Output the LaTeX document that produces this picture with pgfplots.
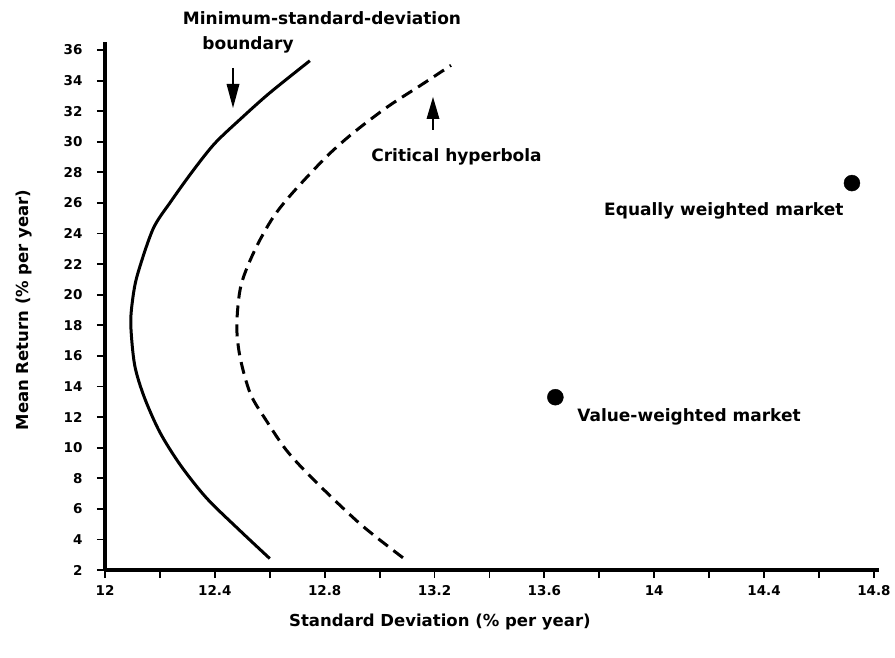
\documentclass[border=0pt]{standalone}
\usepackage{fontspec}
\setmainfont{DejaVu Sans}
\usepackage{pgfplots}
\pgfplotsset{compat=1.18}
\begin{document}
\begin{tikzpicture}[x=1pt,y=1pt]
\useasboundingbox (-105,-87) rectangle (790,570);
\begin{axis}[
  scale only axis,
  width=774.4pt, height=527.6pt,
  xmin=12, xmax=14.82, ymin=2, ymax=36.5,
  axis lines=left,
  axis line style={-, line width=3.2pt},
  tick align=outside,
  major tick length=8pt,
  tick style={line width=1.8pt, black},
  xtick={12,12.2,...,14.81},
  xticklabels={12,,12.4,,12.8,,13.2,,13.6,,14,,14.4,,14.8},
  ytick={2,4,...,36},
  /pgf/number format/assume math mode=true,
  ticklabel style={font=\fontsize{13.5}{15}\selectfont\bfseries},
  yticklabel style={xshift=-11pt},
  xticklabel style={yshift=-4pt},
  xlabel={Standard Deviation (\% per year)},
  ylabel={Mean Return (\% per year)},
  label style={font=\fontsize{16.5}{18}\selectfont\bfseries},
  xlabel style={at={(axis description cs:0.4325,-0.0986)}, anchor=center},
  ylabel style={at={(axis description cs:-0.104,0.493)}, anchor=center, rotate=0},
  clip=false,
]
\addplot[black, line width=3pt, smooth] coordinates {
(12.60,2.75) (12.49,4.6) (12.37,6.7) (12.275,8.85) (12.20,11.0) (12.143,13.3)
(12.108,15.4) (12.094,18.0) (12.100,19.6) (12.118,21.3) (12.175,24.3) (12.24,26.1)
(12.32,28.1) (12.40,29.9) (12.50,31.6) (12.60,33.2) (12.746,35.3)};
\addplot[black, line width=3pt, smooth, dash pattern=on 12pt off 7pt] coordinates {
(13.085,2.8) (12.93,5.0) (12.76,7.9) (12.662,9.8) (12.59,11.7) (12.53,13.5)
(12.492,15.9) (12.48,18.0) (12.495,20.6) (12.545,22.9) (12.61,25.0) (12.68,26.6)
(12.805,29.0) (12.905,30.6) (13.03,32.3) (13.15,33.7) (13.26,35.0)};
\addplot[only marks, mark=*, mark size=8pt, black] coordinates {(14.72,27.3) (13.64,13.3)};
\end{axis}
\begin{scope}[font=\fontsize{17}{19}\selectfont\bfseries]
\node at (217,552) {Minimum-standard-deviation};
\node at (143,525) {boundary};
\node at (351.5,413) {Critical hyperbola};
\node at (618.8,359) {Equally weighted market};
\node at (584,153.3) {Value-weighted market};
\end{scope}
\draw[line width=2.6pt] (128,502) -- (128,482);
\fill (128,462) -- (121.5,486) -- (134.5,486) -- cycle;
\draw[line width=2.6pt] (328,440) -- (328,455);
\fill (328,473) -- (321.5,451) -- (334.5,451) -- cycle;
\end{tikzpicture}
\end{document}
